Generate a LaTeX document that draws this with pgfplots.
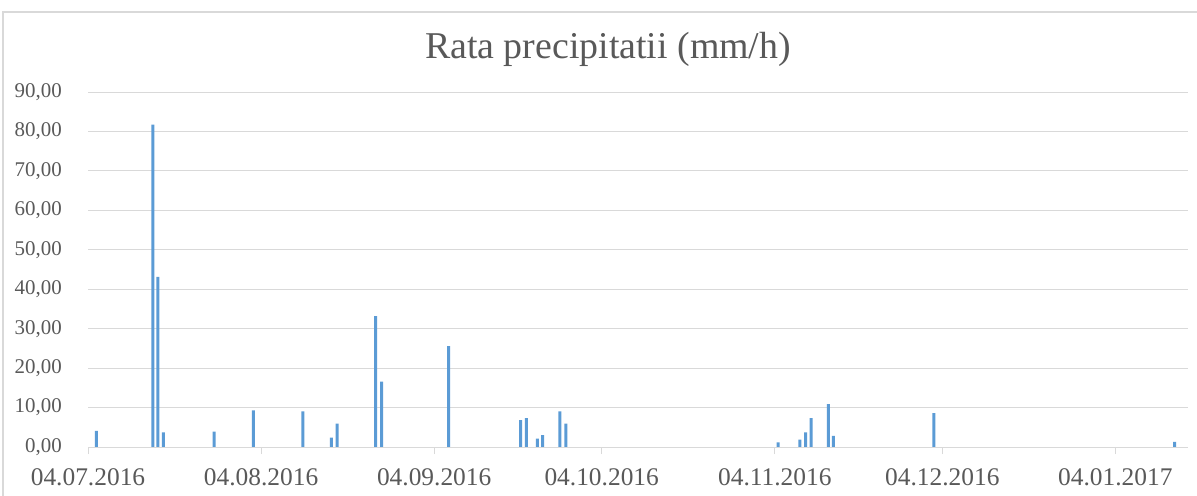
\documentclass[border=0pt]{standalone}
\usepackage{fontspec}
\setmainfont{Liberation Serif}
\usepackage{pgfplots}
\pgfplotsset{compat=1.18}
\definecolor{txt}{HTML}{595959}
\definecolor{gridc}{HTML}{D9D9D9}
\definecolor{barc}{HTML}{5B9BD5}
\begin{document}
\begin{tikzpicture}
\path[use as bounding box] (0,0) rectangle (1197bp,496bp);
\draw[gridc, line width=1.2bp] (3bp,0) -- (3bp,484bp) -- (1197bp,484bp);
\node[anchor=base, text=txt, font=\fontsize{38}{40}\selectfont, inner sep=0pt]
  at (608bp,437bp) {Rata precipitatii (mm/h)};
\begin{axis}[
    at={(88bp,49bp)}, anchor=south west,
    scale only axis, width=1100bp, height=355bp,
    xmin=0, xmax=197, ymin=0, ymax=90,
    ybar, bar width=3bp,
    axis lines*=left,
    x axis line style={draw=gridc, line width=1bp},
    y axis line style={draw=none},
    xtick={0,31,62,92,123,153,184},
    xticklabels={04.07.2016,04.08.2016,04.09.2016,04.10.2016,04.11.2016,04.12.2016,04.01.2017},
    ytick={0,10,...,90},
    ymajorgrids, grid style={draw=gridc, line width=0.9bp},
    tick align=outside, major tick length=7bp,
    x tick style={draw=gridc, line width=1bp},
    y tick style={draw=none},
    xticklabel style={font=\fontsize{25.5}{25.5}\selectfont, text=txt, inner sep=0pt, yshift=-14bp},
    yticklabel style={font=\fontsize{21}{21}\selectfont, text=txt, inner sep=0pt, xshift=-19bp},
    /pgf/number format/.cd, fixed, fixed zerofill, precision=2, use comma, assume math mode=true,
]
\addplot[fill=barc, draw=none] coordinates {
    (1.5,4.1) (11.6,81.7) (12.5,43.1) (13.5,3.7) (22.6,3.9) (29.6,9.3)
    (38.5,9.0) (43.6,2.4) (44.6,5.9) (51.5,33.2) (52.6,16.6) (64.6,25.6)
    (77.5,6.8) (78.5,7.3) (80.5,2.1) (81.4,3.0) (84.5,9.0) (85.6,5.9)
    (123.6,1.2) (127.5,1.9) (128.5,3.7) (129.5,7.3) (132.6,10.9) (133.5,2.8)
    (151.5,8.6) (194.6,1.3)
};
\end{axis}
\end{tikzpicture}
\end{document}
